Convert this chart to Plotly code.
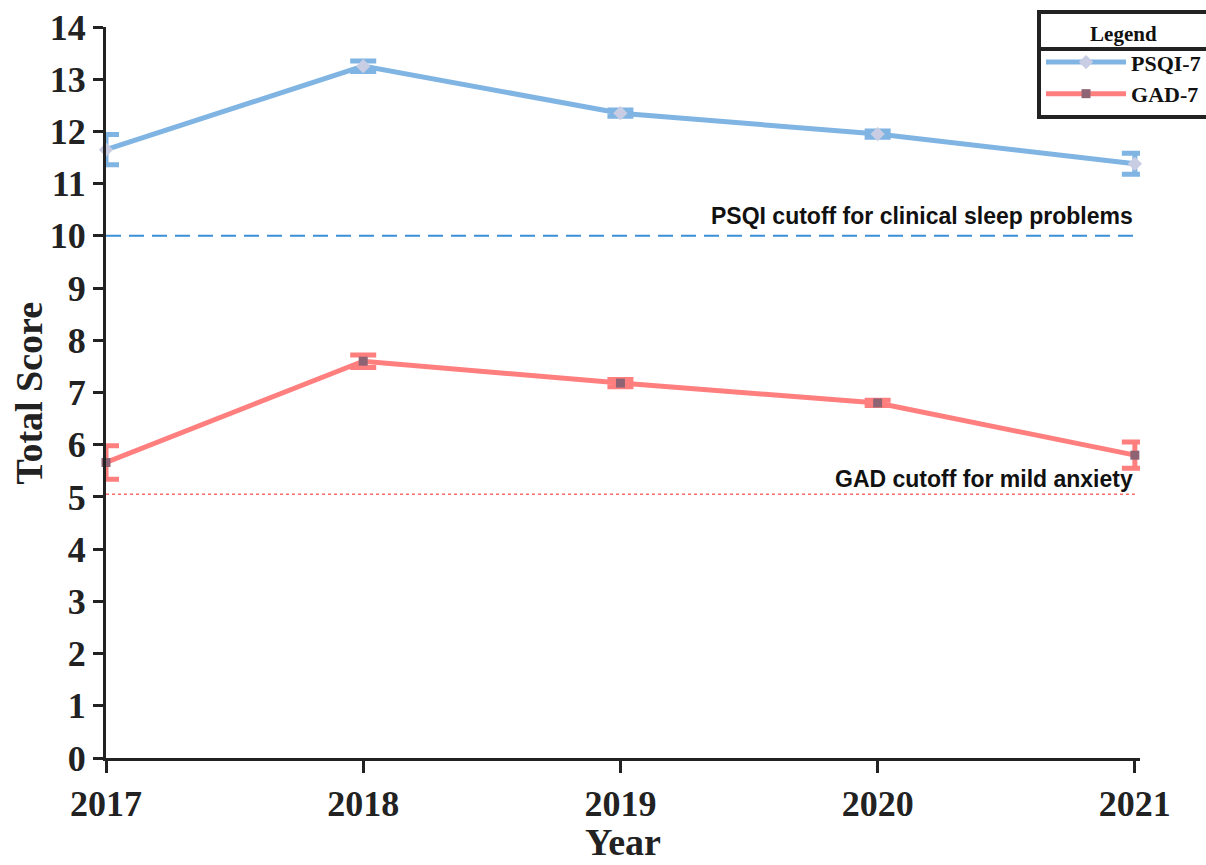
import plotly.graph_objects as go

years = [2017, 2018, 2019, 2020, 2021]
psqi = [11.65, 13.25, 12.35, 11.95, 11.38]
psqi_err = [0.29, 0.10, 0.06, 0.06, 0.20]
gad = [5.66, 7.60, 7.18, 6.80, 5.80]
gad_err = [0.32, 0.12, 0.07, 0.05, 0.25]
psqi_cutoff = 10
gad_cutoff = 5.05

BLUE = "#7fb4e3"
RED = "#ff7f7f"

fig = go.Figure()
fig.add_trace(go.Scatter(
    x=[years[0], years[-1]], y=[psqi_cutoff, psqi_cutoff], mode="lines",
    line=dict(color="#3a8fd6", width=2, dash="15px,8px"), showlegend=False, hoverinfo="skip"))
fig.add_trace(go.Scatter(
    x=[years[0], years[-1]], y=[gad_cutoff, gad_cutoff], mode="lines",
    line=dict(color="#ff6b6b", width=1.5, dash="dot"), showlegend=False, hoverinfo="skip"))

fig.add_trace(go.Scatter(
    x=years, y=psqi, name="<b>PSQI-7</b>", mode="lines+markers",
    line=dict(color=BLUE, width=5),
    marker=dict(symbol="diamond", size=11, color="#c9cde3"),
    error_y=dict(type="data", array=psqi_err, color=BLUE, thickness=5, width=13),
    cliponaxis=False))
fig.add_trace(go.Scatter(
    x=years, y=gad, name="<b>GAD-7</b>", mode="lines+markers",
    line=dict(color=RED, width=5),
    marker=dict(symbol="square", size=9, color="#8e6474"),
    error_y=dict(type="data", array=gad_err, color=RED, thickness=5, width=13),
    cliponaxis=False))

fig.add_annotation(x=2021, y=10.38, xref="x", yref="y", xanchor="right", yanchor="middle",
                   text="<b>PSQI cutoff for clinical sleep problems</b>", showarrow=False,
                   font=dict(family="Liberation Sans, Arial", size=23, color="#111"))
fig.add_annotation(x=2021, y=5.35, xref="x", yref="y", xanchor="right", yanchor="middle",
                   text="<b>GAD cutoff for mild anxiety</b>", showarrow=False,
                   font=dict(family="Liberation Sans, Arial", size=23, color="#111"))

tick_font = dict(family="Liberation Serif, Times New Roman", size=36, color="#222")
title_font = dict(family="Liberation Serif, Times New Roman", size=38, color="#222")

# axis titles
fig.add_annotation(x=-0.0745, y=0.5, xref="paper", yref="paper", xanchor="center", yanchor="middle",
                   text="<b>Total Score</b>", textangle=-90, showarrow=False, font=title_font)
fig.add_annotation(x=0.5, y=-0.115, xref="paper", yref="paper", xanchor="center", yanchor="middle",
                   text="<b>Year</b>", showarrow=False, font=title_font)

# separator under the legend title
fig.add_shape(type="line", xref="paper", yref="paper", x0=0.9004, x1=1.2, y0=0.9699, y1=0.9699,
              line=dict(color="#222", width=4), layer="above")

fig.update_layout(
    width=1206, height=865,
    margin=dict(l=106, r=66, t=27, b=107, autoexpand=False),
    plot_bgcolor="white", paper_bgcolor="white",
    font=dict(family="Liberation Serif, Times New Roman", color="#222"),
    xaxis=dict(range=[2017, 2021.02], tickvals=years, ticktext=[f"<b>{y}</b>" for y in years],
               showgrid=False, zeroline=False, showline=True, linecolor="#222", linewidth=3,
               ticks="outside", ticklen=12, tickwidth=3, tickcolor="#222", tickfont=tick_font,
               automargin=False),
    yaxis=dict(range=[0, 14], tickvals=list(range(15)), ticktext=[f"<b>{v}</b>" for v in range(15)],
               showgrid=False, zeroline=False, showline=True, linecolor="#222", linewidth=3,
               ticks="outside", ticklen=10, tickwidth=3, tickcolor="#222", tickfont=tick_font,
               automargin=False),
    legend=dict(x=0.9004, y=1.0233, xanchor="left", yanchor="top",
                bordercolor="#222", borderwidth=4, bgcolor="rgba(255,255,255,0)",
                title=dict(text="<b>Legend</b>", side="top center",
                           font=dict(family="Liberation Serif", size=21, color="#111")),
                font=dict(family="Liberation Serif", size=22, color="#111"),
                tracegroupgap=0, itemwidth=80),
)
fig.write_html("out.html")
